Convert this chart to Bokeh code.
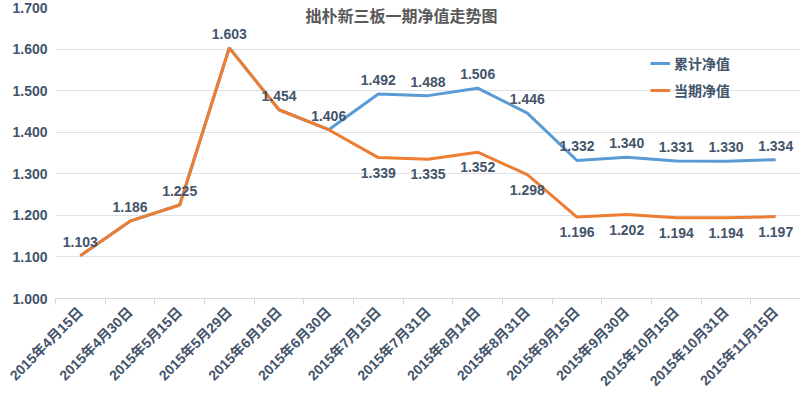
import math
from bokeh.plotting import figure
from bokeh.models import (Range1d, FixedTicker, Label, Legend, LegendItem,
                          ColumnDataSource, NumeralTickFormatter)
from bokeh.core.properties import value
from bokeh.embed import file_html
from bokeh.resources import INLINE

dates = ["2015年4月15日", "2015年4月30日", "2015年5月15日", "2015年5月29日",
         "2015年6月16日", "2015年6月30日", "2015年7月15日", "2015年7月31日",
         "2015年8月14日", "2015年8月31日", "2015年9月15日", "2015年9月30日",
         "2015年10月15日", "2015年10月31日", "2015年11月15日"]
cumulative = [1.103, 1.186, 1.225, 1.603, 1.454, 1.406, 1.492, 1.488, 1.506,
              1.446, 1.332, 1.340, 1.331, 1.330, 1.334]
current = [1.103, 1.186, 1.225, 1.603, 1.454, 1.406, 1.339, 1.335, 1.352,
           1.298, 1.196, 1.202, 1.194, 1.194, 1.197]
y_ticks = [1.0, 1.1, 1.2, 1.3, 1.4, 1.5, 1.6, 1.7]
title_text = "拙朴新三板一期净值走势图"
series_names = ["累计净值", "当期净值"]

FONT = "Liberation Sans, Noto Sans CJK SC"
TXT = "#44546a"
BLUE = "#5b9bd5"
ORANGE = "#ed7d31"

n = len(dates)
xs = list(range(n))

p = figure(width=800, height=397, output_backend="svg", toolbar_location=None,
           x_range=Range1d(-0.5, n - 0.5), y_range=Range1d(y_ticks[0], y_ticks[-1]),
           min_border_left=55, min_border_right=0, min_border_top=7,
           min_border_bottom=98)
p.outline_line_color = None
p.background_fill_color = "white"
p.border_fill_color = "white"

# axes
xa = p.xaxis[0]
xa.ticker = FixedTicker(ticks=xs, minor_ticks=[i - 0.5 for i in range(n + 1)])
xa.major_label_overrides = {i: d for i, d in enumerate(dates)}
xa.major_label_orientation = math.pi / 4
xa.major_tick_line_color = None
xa.major_tick_in = 0
xa.major_tick_out = 0
xa.minor_tick_line_color = "#d9d9d9"
xa.minor_tick_in = 0
xa.minor_tick_out = 6
xa.axis_line_color = "#d9d9d9"
xa.major_label_text_font = FONT
xa.major_label_text_font_size = "14px"
xa.major_label_text_font_style = "bold"
xa.major_label_text_color = TXT
xa.major_label_standoff = 5

ya = p.yaxis[0]
ya.ticker = FixedTicker(ticks=y_ticks)
ya.formatter = NumeralTickFormatter(format="0.000")
ya.axis_line_color = None
ya.major_tick_line_color = None
ya.major_tick_in = 0
ya.major_tick_out = 0
ya.minor_tick_line_color = None
ya.major_label_text_font = FONT
ya.major_label_text_font_size = "14px"
ya.major_label_text_font_style = "bold"
ya.major_label_text_color = TXT
ya.major_label_standoff = 8

p.xgrid.grid_line_color = None
p.ygrid.grid_line_color = "#dde1e8"
p.ygrid.ticker = ya.ticker

# lines
src = ColumnDataSource(dict(x=xs, cum=cumulative, cur=current,
                            cum_t=["%.3f" % v for v in cumulative],
                            cur_t=["%.3f" % v for v in current]))
r_cum = p.line("x", "cum", source=src, line_color=BLUE, line_width=3)
r_cur = p.line("x", "cur", source=src, line_color=ORANGE, line_width=3)

# data labels
p.text("x", "cum", text="cum_t", source=src, text_align="center",
       text_baseline="middle", y_offset=-14, text_font=value(FONT),
       text_font_size="14px", text_font_style="bold", text_color=TXT)
src2 = ColumnDataSource(dict(x=xs[6:], y=current[6:],
                             t=["%.3f" % v for v in current[6:]]))
p.text("x", "y", text="t", source=src2, text_align="center",
       text_baseline="middle", y_offset=15, text_font=value(FONT),
       text_font_size="14px", text_font_style="bold", text_color=TXT)

# title
p.add_layout(Label(x=346, y=282, x_units="screen", y_units="screen",
                   text=title_text, text_align="center", text_baseline="middle",
                   text_font=FONT, text_font_size="16px",
                   text_font_style="bold", text_color="#595959"))

legend = Legend(items=[LegendItem(label=series_names[0], renderers=[r_cum]),
                       LegendItem(label=series_names[1], renderers=[r_cur])],
                location=(595, 198), orientation="vertical",
                glyph_width=20, glyph_height=16, label_height=16, spacing=7,
                label_text_font=FONT, label_text_font_size="14px",
                label_text_font_style="bold", label_text_color=TXT,
                background_fill_alpha=0, border_line_color=None,
                padding=0, margin=0, label_standoff=4)
p.add_layout(legend, "center")

open("out.html", "w").write(file_html(p, INLINE))
